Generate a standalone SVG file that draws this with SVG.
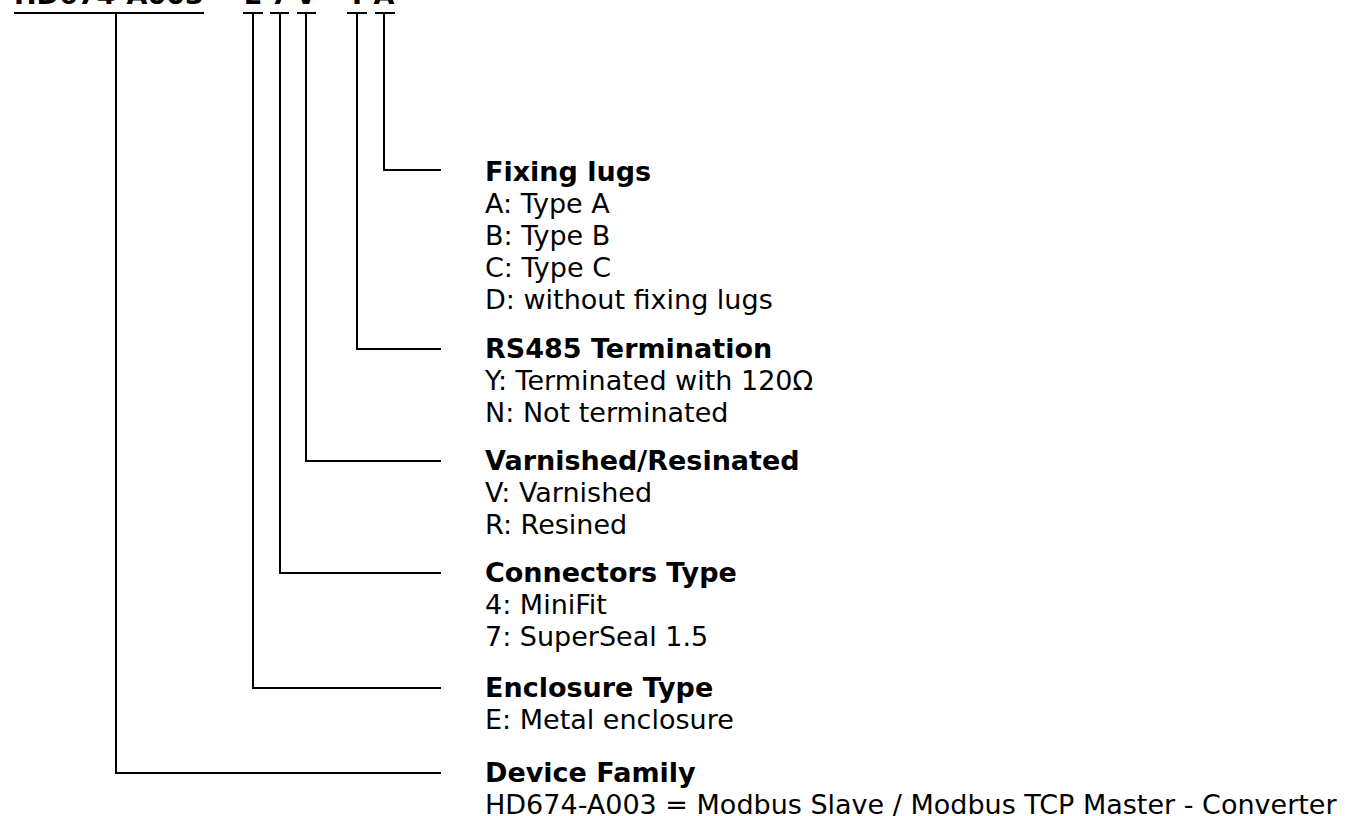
<svg xmlns="http://www.w3.org/2000/svg" width="1346" height="816" viewBox="0 0 1346 816">
  <style>
    .t { font-family: "DejaVu Sans", Verdana, sans-serif; font-size: 27px; fill: #000; }
    .b { font-weight: bold; }
    .ln { fill: none; stroke: #000; stroke-width: 2; }
  </style>
  <rect width="1346" height="816" fill="#fff"/>
  <g id="code">
    <text class="t b" x="14" y="4">HD674-A003</text>
    <text class="t b" x="228" y="4" text-anchor="middle">-</text>
    <text class="t b" x="253" y="4" text-anchor="middle">E</text>
    <text class="t b" x="280" y="4" text-anchor="middle">7</text>
    <text class="t b" x="306" y="4" text-anchor="middle">V</text>
    <text class="t b" x="331" y="4" text-anchor="middle">-</text>
    <text class="t b" x="357" y="4" text-anchor="middle">Y</text>
    <text class="t b" x="384" y="4" text-anchor="middle">A</text>
  </g>
  <g id="connectors">
    <path class="ln" d="M14 13H204M116 13V773H441"/>
    <path class="ln" d="M243 13H263M253 13V688H441"/>
    <path class="ln" d="M270 13H289M280 13V573H441"/>
    <path class="ln" d="M297 13H316M306 13V461H441"/>
    <path class="ln" d="M347 13H367M357 13V349H441"/>
    <path class="ln" d="M375 13H395M384 13V170H441"/>
  </g>
  <g id="fixing-lugs">
    <text class="t b" x="485" y="181">Fixing lugs</text>
    <text class="t" x="485" y="213">A: Type A</text>
    <text class="t" x="485" y="245">B: Type B</text>
    <text class="t" x="485" y="277">C: Type C</text>
    <text class="t" x="485" y="309">D: without fixing lugs</text>
  </g>
  <g id="rs485">
    <text class="t b" x="485" y="358">RS485 Termination</text>
    <text class="t" x="485" y="390">Y: Terminated with 120Ω</text>
    <text class="t" x="485" y="422">N: Not terminated</text>
  </g>
  <g id="varnished">
    <text class="t b" x="485" y="470">Varnished/Resinated</text>
    <text class="t" x="485" y="502">V: Varnished</text>
    <text class="t" x="485" y="534">R: Resined</text>
  </g>
  <g id="connectors-type">
    <text class="t b" x="485" y="582">Connectors Type</text>
    <text class="t" x="485" y="614">4: MiniFit</text>
    <text class="t" x="485" y="646">7: SuperSeal 1.5</text>
  </g>
  <g id="enclosure">
    <text class="t b" x="485" y="697">Enclosure Type</text>
    <text class="t" x="485" y="729">E: Metal enclosure</text>
  </g>
  <g id="device-family">
    <text class="t b" x="485" y="782">Device Family</text>
    <text class="t" x="485" y="814">HD674-A003 = Modbus Slave / Modbus TCP Master - Converter</text>
  </g>
</svg>
